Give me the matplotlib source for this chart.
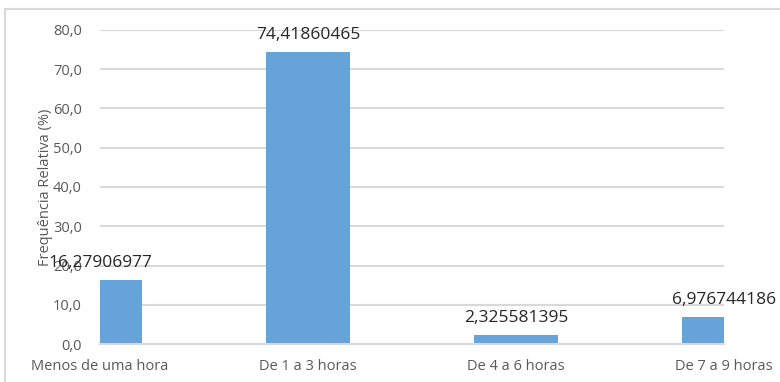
import matplotlib.pyplot as plt
from matplotlib.patches import Rectangle

categorias = ['Menos de uma hora', 'De 1 a 3 horas', 'De 4 a 6 horas', 'De 7 a 9 horas']
valores = [16.27906977, 74.41860465, 2.325581395, 6.976744186]
rotulos = ['16,27906977', '74,41860465', '2,325581395', '6,976744186']
yticks = [0, 10, 20, 30, 40, 50, 60, 70, 80]

plt.rcParams['font.family'] = ['Open Sans', 'DejaVu Sans']

fig = plt.figure(figsize=(7.8, 3.82), dpi=100)
# borda do grafico (estilo Excel)
fig.patches.append(Rectangle((5 / 780, -0.1), 1.0, 1.1 - 9 / 382, transform=fig.transFigure,
                             fill=False, edgecolor='#d9d9d9', linewidth=1.5))

ax = fig.add_axes([100 / 780, 38 / 382, 624 / 780, 314 / 382])
x = list(range(len(categorias)))
ax.bar(x, valores, width=0.4, color='#66a3d9', zorder=2)
ax.set_xlim(0, 3)
ax.set_ylim(0, 80)

for xi, v, r in zip(x, valores, rotulos):
    ax.text(xi, v + 2.3, r, ha='center', va='bottom', fontsize=12.5, color='#262626', zorder=3)

ax.set_yticks(yticks)
ax.set_yticklabels(['%d,0' % t for t in yticks])
ax.set_xticks(x)
ax.set_xticklabels(categorias)
ax.tick_params(axis='both', length=0, labelsize=10.5, labelcolor='#595959')
ax.tick_params(axis='y', pad=13)
ax.tick_params(axis='x', pad=11)
ax.grid(axis='y', color='#d9d9d9', linewidth=1.5, zorder=0)
for s in ['top', 'right', 'left']:
    ax.spines[s].set_visible(False)
ax.spines['bottom'].set_color('#d9d9d9')
ax.spines['bottom'].set_linewidth(1.5)
ax.set_ylabel('Frequência Relativa (%)', fontsize=10.5, color='#595959', labelpad=0)

plt.savefig('out.png', dpi=100)
